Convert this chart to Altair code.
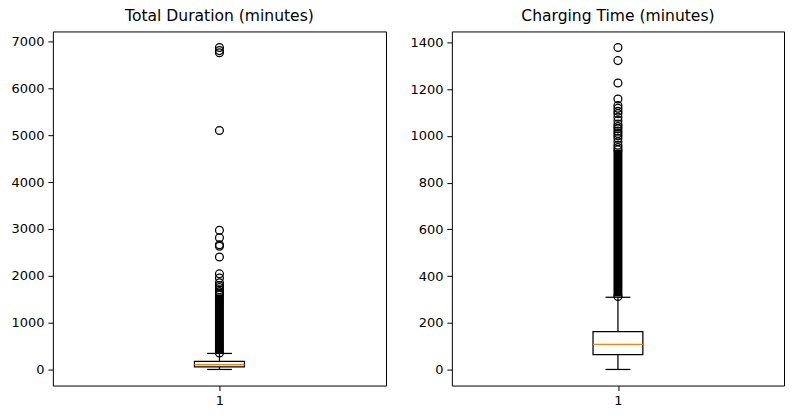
import altair as alt
import pandas as pd

# ---------------- data ----------------
titles = ["Total Duration (minutes)", "Charging Time (minutes)"]

# box statistics: whisker_lo, q1, median, q3, whisker_hi
dur_stats = [0, 55, 105, 170, 342]
chg_stats = [0, 63, 107, 162, 309]

# dense (visually solid) run of outliers: lowest and highest value
dur_dense = [352, 1600]
chg_dense = [312, 940]

# individually visible outliers
dur_outliers = [352, 1600, 1630, 1660, 1700, 1750, 1790, 1850, 1950, 2040,
                2400, 2630, 2660, 2810, 2970, 5100, 6760, 6805, 6870]
chg_outliers = [312, 940, 950, 960, 975, 990, 1000, 1010, 1020, 1030, 1040,
                1050, 1065, 1080, 1095, 1105, 1118, 1130, 1158, 1226, 1322, 1378]

dur_ticks = [0, 1000, 2000, 3000, 4000, 5000, 6000, 7000]
chg_ticks = [0, 200, 400, 600, 800, 1000, 1200, 1400]

FONT = "DejaVu Sans"
POS = 1.0
BOX_HALF = 0.075
CAP_HALF = 0.0375
BAND_HALF = 0.0135
LW = 1.25


def panel(title, stats, dense, outliers, ticks, width):
    lo, q1, med, q3, hi = stats
    top = max(outliers + [hi])
    bot = min([lo] + outliers)
    margin = 0.05 * (top - bot)
    ydom = [bot - margin, top + margin]

    xs = alt.Scale(domain=[0.5, 1.5], nice=False, zero=False)
    ys = alt.Scale(domain=ydom, nice=False, zero=False)
    xax = alt.Axis(values=[1], format="d", title=None, grid=False, domain=False,
                   tickSize=5, tickColor="black", labelFontSize=13, labelFont=FONT,
                   labelColor="black", labelPadding=4, labelFlush=False)
    yax = alt.Axis(values=ticks, format="d", title=None, grid=False, domain=False,
                   tickSize=5, tickColor="black", labelFontSize=13, labelFont=FONT,
                   labelColor="black", labelPadding=4, labelFlush=False,
                   labelOverlap=False)

    box_df = pd.DataFrame({"x": [POS - BOX_HALF], "x2": [POS + BOX_HALF],
                           "q1": [q1], "q3": [q3], "med": [med]})
    wh_df = pd.DataFrame({"x": [POS, POS], "a": [lo, q3], "b": [q1, hi]})
    cap_df = pd.DataFrame({"x": [POS - CAP_HALF] * 2, "x2": [POS + CAP_HALF] * 2,
                           "y": [lo, hi]})
    band_df = pd.DataFrame({"x": [POS - BAND_HALF], "x2": [POS + BAND_HALF],
                            "a": [dense[0]], "b": [dense[1]]})
    out_df = pd.DataFrame({"x": [POS] * len(outliers), "y": outliers})

    base_x = alt.X("x:Q", scale=xs, axis=xax)

    band = alt.Chart(band_df).mark_rect(color="black").encode(
        x=base_x, x2="x2:Q",
        y=alt.Y("a:Q", scale=ys, axis=yax), y2="b:Q")
    whisk = alt.Chart(wh_df).mark_rule(color="black", strokeWidth=LW).encode(
        x=base_x, y=alt.Y("a:Q", scale=ys, axis=yax), y2="b:Q")
    caps = alt.Chart(cap_df).mark_rule(color="black", strokeWidth=LW).encode(
        x=base_x, x2="x2:Q", y=alt.Y("y:Q", scale=ys, axis=yax))
    box = alt.Chart(box_df).mark_rect(fill="white", fillOpacity=0, stroke="black",
                                      strokeWidth=LW).encode(
        x=base_x, x2="x2:Q", y=alt.Y("q1:Q", scale=ys, axis=yax), y2="q3:Q")
    median = alt.Chart(box_df).mark_rule(color="#ff7f0e", strokeWidth=LW).encode(
        x=base_x, x2="x2:Q", y=alt.Y("med:Q", scale=ys, axis=yax))
    pts = alt.Chart(out_df).mark_point(shape="circle", filled=False, color="black",
                                       size=62, strokeWidth=1.25, opacity=1).encode(
        x=base_x, y=alt.Y("y:Q", scale=ys, axis=yax))

    return alt.layer(band, whisk, caps, box, median, pts).properties(
        width=width, height=355,
        title=alt.TitleParams(title, fontSize=15.6, font=FONT, fontWeight="normal",
                              color="black", offset=7))


left = panel(titles[0], dur_stats, dur_dense, dur_outliers, dur_ticks, 334)
right = panel(titles[1], chg_stats, chg_dense, chg_outliers, chg_ticks, 333)

chart = alt.hconcat(left, right, spacing=66, bounds="flush").properties(
    padding={"left": 10, "top": 7, "right": 8, "bottom": 8},
    background="white",
).configure_view(stroke="black", strokeWidth=1)

chart.save("out.html", embed_options={"renderer": "svg", "actions": False})
